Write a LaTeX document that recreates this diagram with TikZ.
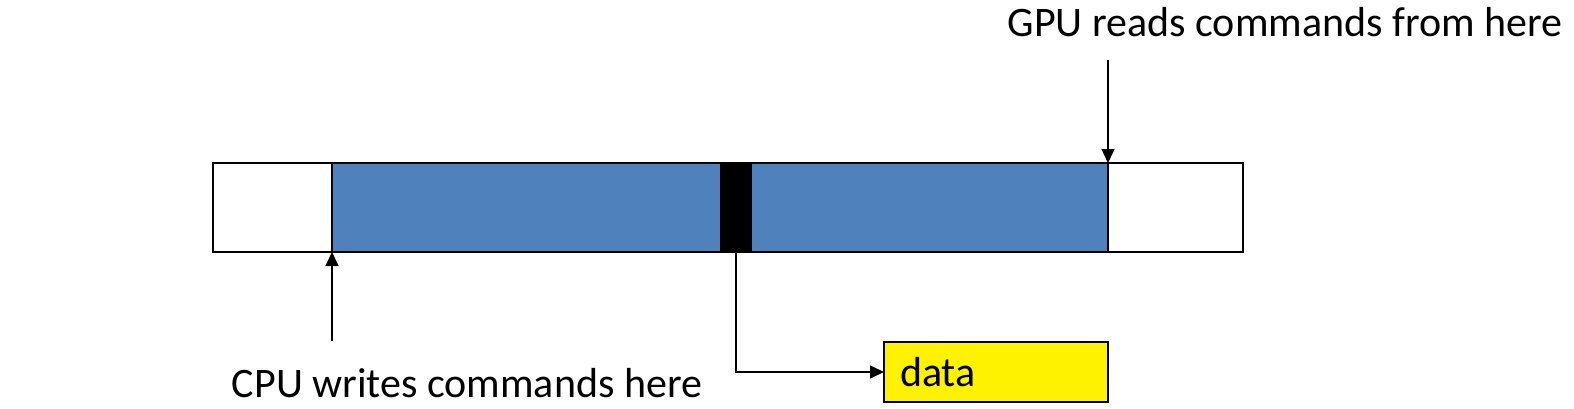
\documentclass[tikz,border=0pt]{standalone}
\usepackage{fontspec}
\setmainfont{Carlito}
\usetikzlibrary{
  arrows.meta,
  calc,
  positioning,
}
\definecolor{usedblue}{HTML}{4F81BD}
\tikzset{
  x = 1pt,
  y = 1pt,
  box/.style={
    draw, line width=1.5pt, inner sep=0pt, outer sep=0pt, anchor=south west,
  },
  lbl/.style={font=\fontsize{42}{50}\selectfont, inner sep=0pt},
  >={Triangle[length=14pt,width=13pt]},
  ptr/.style={line width=1.5pt, ->},
}

\begin{document}
\begin{tikzpicture}
  \useasboundingbox (0,0) rectangle (1574,408);
  \node[box, minimum width=1030, minimum height=89](Buf) at (213,156){};
  \node[box, fill=usedblue, minimum width=776, minimum height=89](Used) at (332,156){};
  \node[box, fill=black, minimum width=30, minimum height=89](Mark) at (721,156){};
  %%
  \node[box, fill=yellow, minimum width=224, minimum height=60,
    lbl, text width=224, align=left](Data) at (884,6){\hspace{16pt}data};
  %%
  \node[lbl](Gpu) at (1285,386){GPU reads commands from here};
  \node[lbl](Cpu) at (467,25){CPU writes commands here};
  \coordinate(GpuTop) at (1108,348);
  \coordinate(CpuBot) at (332,67);
  %%
  \draw[ptr](GpuTop) -- (Used.north east);
  \draw[ptr](CpuBot) -- (Used.south west);
  \draw[ptr](Mark.south) |- (Data.west);
\end{tikzpicture}
\end{document}
